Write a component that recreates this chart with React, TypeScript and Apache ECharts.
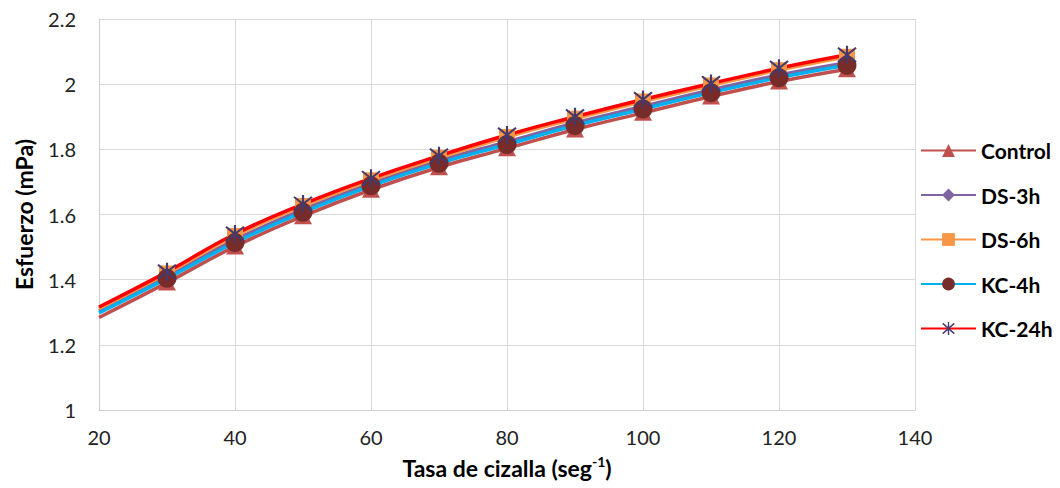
import React, { useEffect, useRef } from "react";
import * as echarts from "echarts";

const shearRates = [20, 30, 40, 50, 60, 70, 80, 90, 100, 110, 120, 130];
const seriesNames = ["Control", "DS-3h", "DS-6h", "KC-4h", "KC-24h"];
const controlValues = [1.284, 1.391, 1.502, 1.595, 1.676, 1.745, 1.803, 1.861, 1.912, 1.962, 2.008, 2.046];
const ds3hValues = [1.304, 1.410, 1.522, 1.615, 1.696, 1.765, 1.823, 1.881, 1.932, 1.982, 2.028, 2.066];
const ds6hValues = [1.311, 1.419, 1.534, 1.626, 1.705, 1.774, 1.838, 1.894, 1.947, 1.996, 2.043, 2.084];
const kc4hValues = [1.298, 1.404, 1.514, 1.607, 1.688, 1.757, 1.815, 1.873, 1.924, 1.974, 2.020, 2.058];
const kc24hValues = [1.316, 1.424, 1.540, 1.632, 1.711, 1.780, 1.844, 1.900, 1.953, 2.002, 2.049, 2.090];
const xTicks = { min: 20, max: 140, interval: 20 };
const yTicks = { min: 1, max: 2.2, interval: 0.2 };

const FONT = "Lato, 'Open Sans', sans-serif";

function bar(x1: number, y1: number, x2: number, y2: number, w: number) {
  const dx = x2 - x1;
  const dy = y2 - y1;
  const len = Math.sqrt(dx * dx + dy * dy);
  const nx = (-dy / len) * (w / 2);
  const ny = (dx / len) * (w / 2);
  const f = (v: number) => v.toFixed(2);
  return `M${f(x1 + nx)} ${f(y1 + ny)}L${f(x2 + nx)} ${f(y2 + ny)}L${f(x2 - nx)} ${f(y2 - ny)}L${f(x1 - nx)} ${f(y1 - ny)}Z`;
}
const STAR =
  "path://" +
  bar(10, 0, 10, 20, 2.2) +
  bar(1, 2, 19, 18, 2.2) +
  bar(1, 18, 19, 2, 2.2) +
  "M0 0M20 20";

export default function App() {
  const ref = useRef<HTMLDivElement>(null);
  useEffect(() => {
    document.body.style.margin = "0";
    const chart = echarts.init(ref.current!, undefined, { renderer: "svg" });
    const mk = (vals: number[]) =>
      vals.map((v, i) => (i === 0 ? { value: [shearRates[i], v], symbol: "none" } : { value: [shearRates[i], v] }));
    const defs = [
      { vals: controlValues, line: "#c0504d", mark: "#c0504d", symbol: "triangle", size: [18, 16] },
      { vals: ds3hValues, line: "#8064a2", mark: "#8064a2", symbol: "diamond", size: [16, 18] },
      { vals: ds6hValues, line: "#f79646", mark: "#f79646", symbol: "rect", size: [16, 16] },
      { vals: kc4hValues, line: "#00b0f0", mark: "#772c2a", symbol: "circle", size: [19, 19] },
      { vals: kc24hValues, line: "#ff0000", mark: "#46396b", symbol: STAR, size: [20, 18] },
    ];
    chart.setOption({
      animation: false,
      grid: { left: 99, top: 19, right: 145, bottom: 78 },
      legend: {
        orient: "vertical",
        left: 915,
        top: 135,
        itemWidth: 55,
        itemHeight: 16,
        itemGap: 23.5,
        textStyle: { fontFamily: FONT, fontSize: 21, fontWeight: "bold", color: "#000" },
        data: seriesNames,
      },
      xAxis: {
        type: "value",
        min: xTicks.min,
        max: xTicks.max,
        interval: xTicks.interval,
        axisLine: { show: true, lineStyle: { color: "#cfcfcf", width: 1 } },
        axisTick: { show: false },
        splitLine: { show: true, lineStyle: { color: "#d9d9d9", width: 1 } },
        axisLabel: { fontFamily: FONT, fontSize: 20, color: "#222", margin: 17 },
        name: "{a|Tasa de cizalla (seg}{s|-1}{a|)}",
        nameLocation: "middle",
        nameGap: 44,
        nameTextStyle: {
          rich: {
            a: { fontFamily: FONT, fontSize: 23, fontWeight: "bold", color: "#000", lineHeight: 27 },
            s: { fontFamily: FONT, fontSize: 14, fontWeight: "bold", color: "#000", lineHeight: 14, verticalAlign: "top" },
          },
        },
      },
      yAxis: {
        type: "value",
        min: yTicks.min,
        max: yTicks.max,
        interval: yTicks.interval,
        axisLine: { show: true, lineStyle: { color: "#cfcfcf", width: 1 } },
        axisTick: { show: false },
        splitLine: { show: true, lineStyle: { color: "#d9d9d9", width: 1 } },
        axisLabel: { fontFamily: FONT, fontSize: 20, color: "#222", margin: 23 },
        name: "Esfuerzo (mPa)",
        nameLocation: "middle",
        nameGap: 64,
        nameTextStyle: { fontFamily: FONT, fontSize: 23, fontWeight: "bold", color: "#000" },
      },
      series: defs.map((d, i) => ({
        name: seriesNames[i],
        type: "line",
        smooth: 0.45,
        data: mk(d.vals),
        symbol: d.symbol,
        symbolSize: d.size,
        showAllSymbol: true,
        lineStyle: { color: d.line, width: 3.5 },
        itemStyle: { color: d.mark, borderWidth: 0 },
        emphasis: { disabled: true },
        clip: false,
      })),
    });
    return () => chart.dispose();
  }, []);
  return <div ref={ref} style={{ width: 1060, height: 488 }} />;
}
